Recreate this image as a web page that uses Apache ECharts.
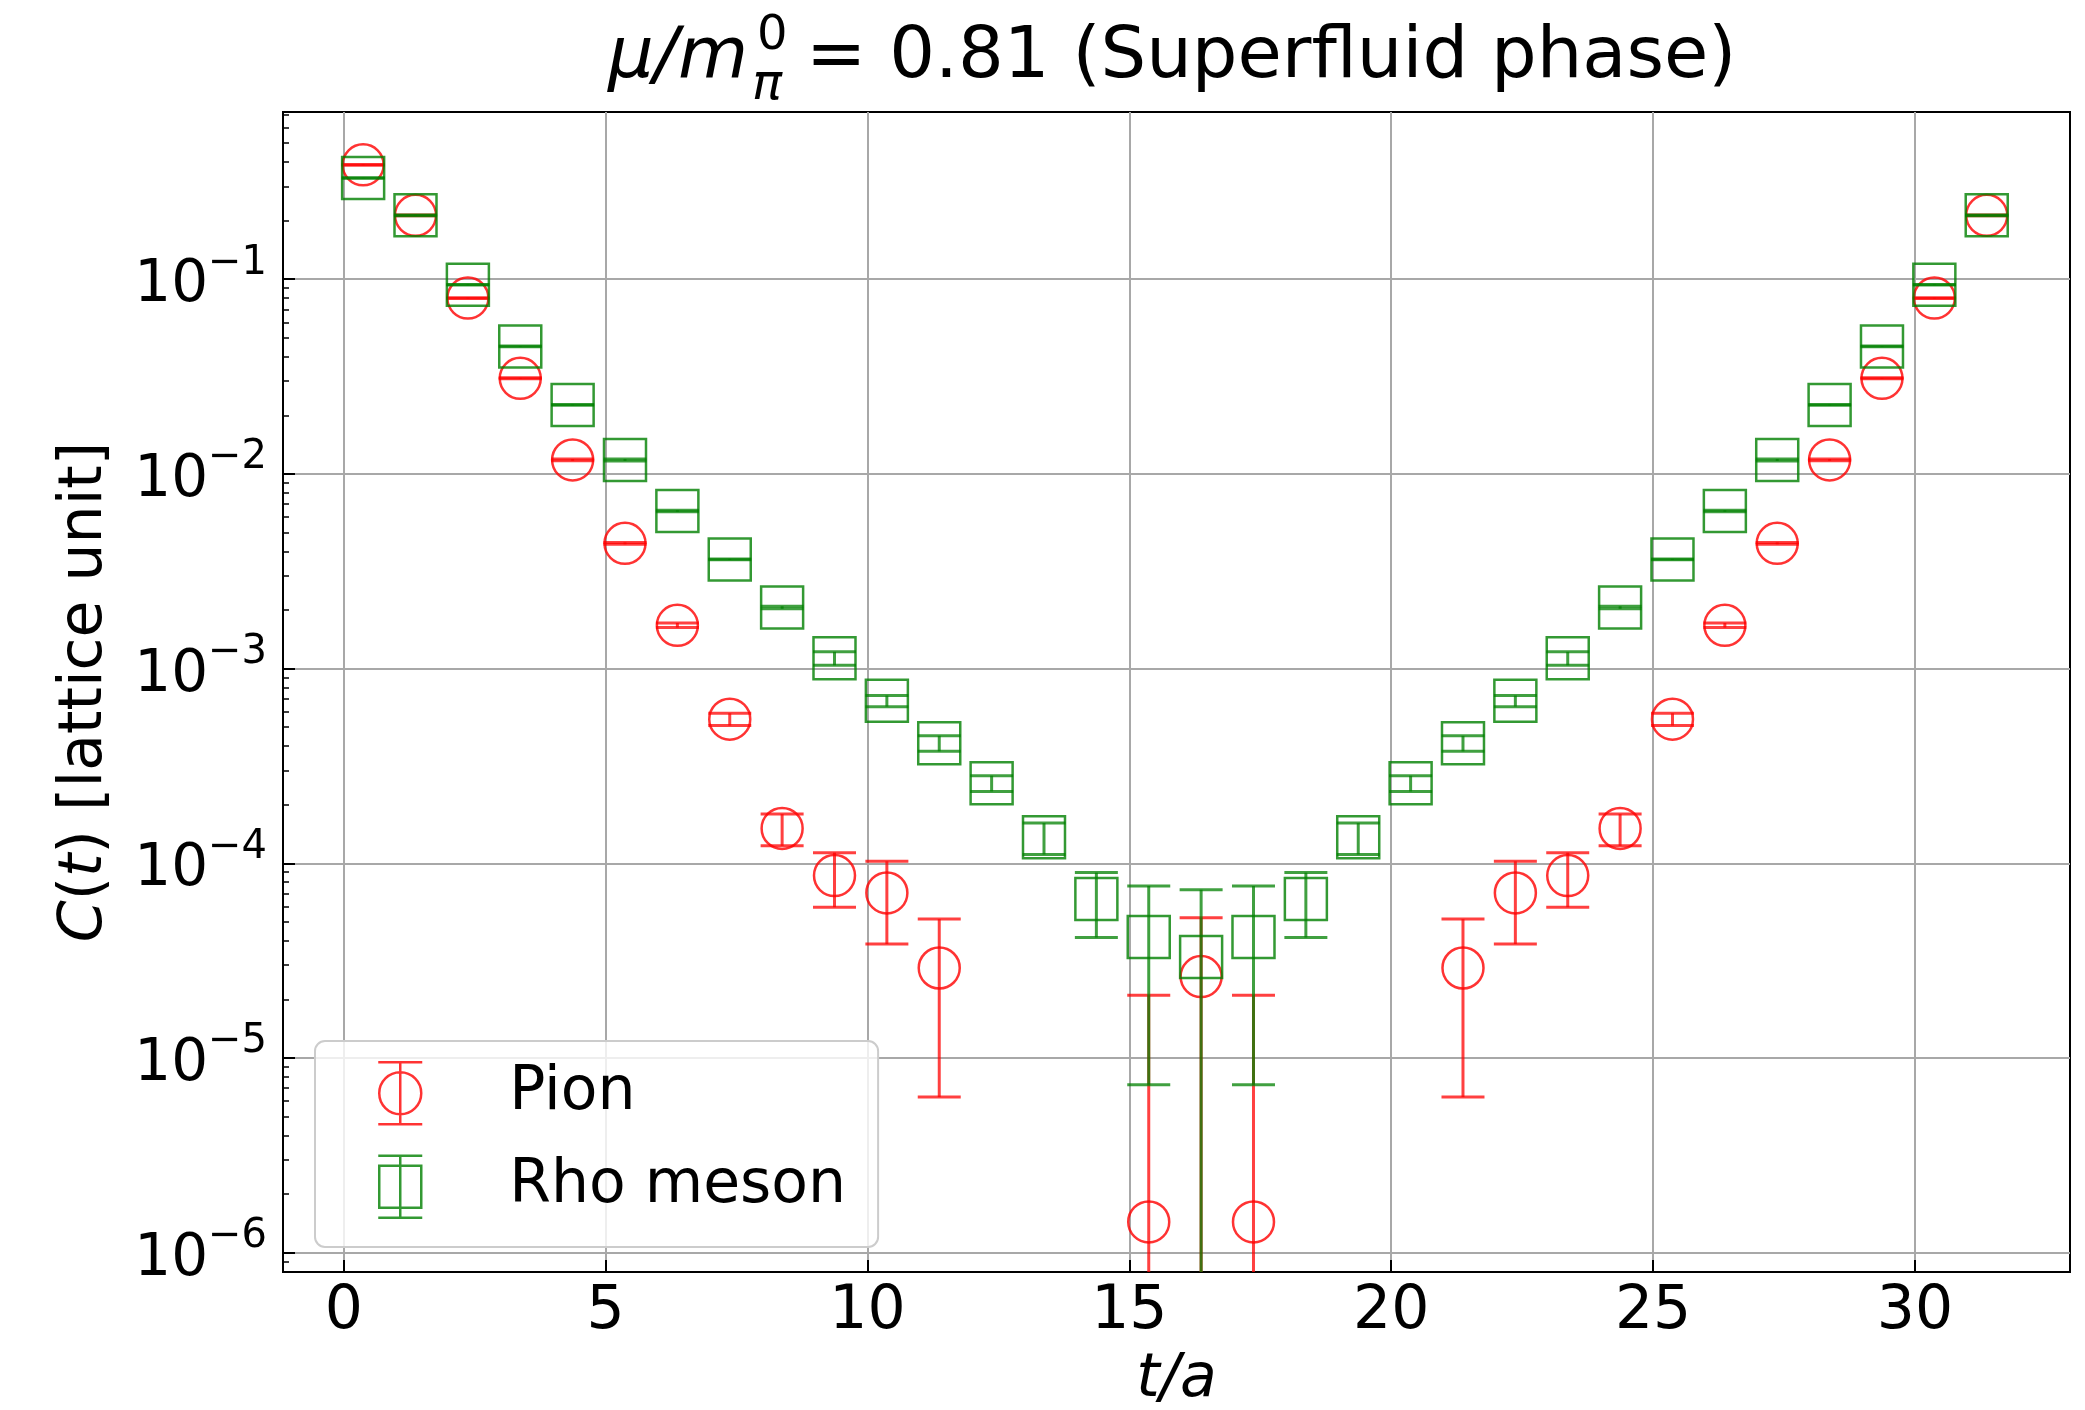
<!DOCTYPE html>
<html><head><meta charset="utf-8">
<script src="https://cdn.jsdelivr.net/npm/echarts@6/dist/echarts.min.js"></script>
<style>html,body{margin:0;padding:0;background:#fff}#c{width:2085px;height:1410px}</style>
</head><body><div id="c"></div>
<script>
// ---- data ----
const tValues = [0.37, 1.37, 2.37, 3.37, 4.37, 5.37, 6.37, 7.37, 8.37, 9.37, 10.37, 11.37, 12.37, 13.37, 14.37, 15.37,
                 16.37, 17.37, 18.37, 19.37, 20.37, 21.37, 22.37, 23.37, 24.37, 25.37, 26.37, 27.37, 28.37, 29.37, 30.37, 31.37];
const pionValues = [0.387, 0.213, 0.080, 0.031, 0.0118, 0.0044, 0.00167, 0.00055, 0.000151, 0.0000865, 0.0000705, 0.000029,
                    null, null, null, 0.00000144, 0.0000262, 0.00000144, null, null, null,
                    0.000029, 0.0000705, 0.0000865, 0.000151, 0.00055, 0.00167, 0.0044, 0.0118, 0.031, 0.080, 0.213];
const pionErrors = [0.002, 0.001, 0.0004, 0.00015, 0.00012, 0.00005, 0.000045, 0.00004, 0.000028, 0.000027, 0.000032, 0.0000227,
                    null, null, null, 0.0000196, 0.0000264, 0.0000196, null, null, null,
                    0.0000227, 0.000032, 0.000027, 0.000028, 0.00004, 0.000045, 0.00005, 0.00012, 0.00015, 0.0004, 0.001];
const rhoValues = [0.331, 0.213, 0.0937, 0.0452, 0.0226, 0.0118, 0.00645, 0.00364, 0.00206, 0.00113, 0.000683, 0.000414,
                   0.000258, 0.000136, 0.0000656, 0.0000419, 0.0000330, 0.0000419, 0.0000656, 0.000136, 0.000258,
                   0.000414, 0.000683, 0.00113, 0.00206, 0.00364, 0.00645, 0.0118, 0.0226, 0.0452, 0.0937, 0.213];
const rhoErrors = [0.001, 0.001, 0.0004, 0.0002, 0.0001, 0.00014, 0.00006, 0.00002, 0.00003, 0.00009, 0.000045, 0.000038,
                   0.000024, 0.000025, 0.000024, 0.0000346, 0.0000402, 0.0000346, 0.000024, 0.000025, 0.000024,
                   0.000038, 0.000045, 0.00009, 0.00003, 0.00002, 0.00006, 0.00014, 0.0001, 0.0002, 0.0004, 0.001];
const xTickValues = [0, 5, 10, 15, 20, 25, 30];
const yTickValues = [1e-6, 1e-5, 1e-4, 1e-3, 1e-2, 1e-1];
const seriesNames = ['Pion', 'Rho meson'];

// ---- layout constants ----
const X_MIN = -1.16, X_MAX = 32.96;
const Y_MIN = Math.pow(10, -6.099), Y_MAX = Math.pow(10, -0.141);
const FONT = '"DejaVu Sans", sans-serif';
const RED = '#ff0000', GREEN = '#008000';
const GRID_COLOR = '#a8a8a8';

const minorTickValues = [];
for (let e = -7; e <= -1; e++) {
  for (let m = 2; m <= 9; m++) {
    const v = m * Math.pow(10, e);
    if (v > Y_MIN && v < Y_MAX) minorTickValues.push(v);
  }
}

function pts(vals) {
  const out = [];
  vals.forEach((v, i) => { if (v !== null) out.push([tValues[i], v]); });
  return out;
}
function errPts(vals, errs) {
  const out = [];
  vals.forEach((v, i) => { if (v !== null) out.push([tValues[i], v, errs[i]]); });
  return out;
}
function errRender(color) {
  return function (params, api) {
    const x = api.value(0), v = api.value(1), e = api.value(2);
    const hi = v + e;
    let lo = v - e;
    const clipped = lo <= Y_MIN;
    if (clipped) lo = Y_MIN;
    const pT = api.coord([x, hi]);
    const pB = api.coord([x, lo]);
    const hw = 21.5;
    const st = { stroke: color, lineWidth: 3, fill: null };
    const ch = [
      { type: 'line', shape: { x1: pT[0], y1: pT[1], x2: pB[0], y2: pB[1] }, style: st },
      { type: 'line', shape: { x1: pT[0] - hw, y1: pT[1], x2: pT[0] + hw, y2: pT[1] }, style: st }
    ];
    if (!clipped) ch.push({ type: 'line', shape: { x1: pB[0] - hw, y1: pB[1], x2: pB[0] + hw, y2: pB[1] }, style: st });
    return { type: 'group', children: ch };
  };
}

const supMap = { '-1': '−1', '-2': '−2', '-3': '−3', '-4': '−4', '-5': '−5', '-6': '−6' };
function yLabel(v) {
  const e = Math.round(Math.log10(v));
  return '{b|10}{s|' + (supMap[String(e)] || String(e)) + '}';
}

const pionIcon = 'path://M1,31 A21,21 0 1,0 43,31 A21,21 0 1,0 1,31 M22,0 L22,62 M0,0 L44,0 M0,62 L44,62';
const rhoIcon = 'path://M1,10 L43,10 L43,52 L1,52 Z M22,0 L22,62 M0,0 L44,0 M0,62 L44,62';

const chart = echarts.init(document.getElementById('c'), null, { renderer: 'canvas' });
chart.setOption({
  animation: false,
  backgroundColor: '#ffffff',
  grid: { left: 283, right: 15, top: 112, bottom: 138, show: true, borderColor: '#000', borderWidth: 2,
          backgroundColor: 'transparent', containLabel: false, outerBoundsMode: 'none' },
  graphic: [
    { type: 'text', z: 10, style: { x: 608, y: 57.8, text: 'μ/m', font: 'italic 72px ' + FONT, fill: '#000', verticalAlign: 'middle' } },
    { type: 'text', z: 10, style: { x: 757, y: 37, text: '0', font: '48px ' + FONT, fill: '#000', verticalAlign: 'middle' } },
    { type: 'text', z: 10, style: { x: 752, y: 86, text: 'π', font: 'italic 50px ' + FONT, fill: '#000', verticalAlign: 'middle' } },
    { type: 'text', z: 10, style: { x: 806, y: 57.8, text: '= 0.81 (Superfluid phase)', font: '72px ' + FONT, fill: '#000', verticalAlign: 'middle' } }
  ],
  legend: {
    orient: 'vertical', left: 315, top: 1041,
    padding: [20, 32, 28, 62], itemGap: 29, itemWidth: 44, itemHeight: 62,
    backgroundColor: 'rgba(255,255,255,0.8)', borderColor: '#cccccc', borderWidth: 2, borderRadius: 10,
    textStyle: { fontFamily: FONT, fontSize: 60, color: '#000', padding: [0, 0, 0, 82] },
    data: [
      { name: seriesNames[0], icon: pionIcon, itemStyle: { color: 'rgba(0,0,0,0)', borderColor: RED, borderWidth: 2.5 } },
      { name: seriesNames[1], icon: rhoIcon, itemStyle: { color: 'rgba(0,0,0,0)', borderColor: GREEN, borderWidth: 2.5 } }
    ]
  },
  xAxis: {
    type: 'value', min: X_MIN, max: X_MAX,
    name: 't/a', nameLocation: 'middle', nameGap: 78,
    nameTextStyle: { fontFamily: FONT, fontSize: 60, fontStyle: 'italic', color: '#000' },
    axisLine: { show: true, onZero: false, lineStyle: { color: '#000', width: 2 } },
    axisTick: { show: true, inside: true, length: 12, lineStyle: { color: '#000', width: 2 }, customValues: xTickValues },
    axisLabel: { show: true, customValues: xTickValues, fontFamily: FONT, fontSize: 60, color: '#000', margin: 10 },
    splitLine: { show: true, lineStyle: { color: GRID_COLOR, width: 2 } }
  },
  yAxis: [{
    type: 'log', logBase: 10, min: Y_MIN, max: Y_MAX,
    name: '{i|C}({i|t}) [lattice unit]', nameLocation: 'middle', nameGap: 168, nameRotate: 90,
    nameTextStyle: { fontFamily: FONT, fontSize: 60, color: '#000', rich: { i: { fontFamily: FONT, fontSize: 60, fontStyle: 'italic', color: '#000' } } },
    axisLine: { show: true, onZero: false, lineStyle: { color: '#000', width: 2 } },
    axisTick: { show: true, inside: true, length: 12, lineStyle: { color: '#000', width: 2 }, customValues: yTickValues },
    axisLabel: {
      show: true, customValues: yTickValues, margin: 16, formatter: yLabel,
      rich: {
        b: { fontFamily: FONT, fontSize: 58, color: '#000', padding: [14, 0, 0, 0], verticalAlign: 'bottom' },
        s: { fontFamily: FONT, fontSize: 40, color: '#000', verticalAlign: 'top' }
      }
    },
    splitLine: { show: true, lineStyle: { color: GRID_COLOR, width: 2 } }
  }, {
    type: 'log', logBase: 10, min: Y_MIN, max: Y_MAX, position: 'left',
    axisLine: { show: false, onZero: false },
    axisTick: { show: true, inside: true, length: 6, lineStyle: { color: '#000', width: 1.5 }, customValues: minorTickValues },
    axisLabel: { show: false },
    splitLine: { show: false }
  }],
  series: [
    { name: 'Pion error', type: 'custom', z: 2, renderItem: errRender('rgba(255,0,0,0.75)'), encode: { x: 0, y: 1 }, data: errPts(pionValues, pionErrors), silent: true },
    { name: seriesNames[0], type: 'scatter', z: 3, symbol: 'circle', symbolSize: 41, data: pts(pionValues),
      itemStyle: { color: 'rgba(0,0,0,0)', borderColor: RED, borderWidth: 2.5 } },
    { name: 'Rho error', type: 'custom', z: 4, renderItem: errRender('rgba(0,128,0,0.75)'), encode: { x: 0, y: 1 }, data: errPts(rhoValues, rhoErrors), silent: true },
    { name: seriesNames[1], type: 'scatter', z: 5, symbol: 'rect', symbolSize: 42, data: pts(rhoValues),
      itemStyle: { color: 'rgba(0,0,0,0)', borderColor: GREEN, borderWidth: 2.5 } }
  ]
});
</script>
</body></html>
